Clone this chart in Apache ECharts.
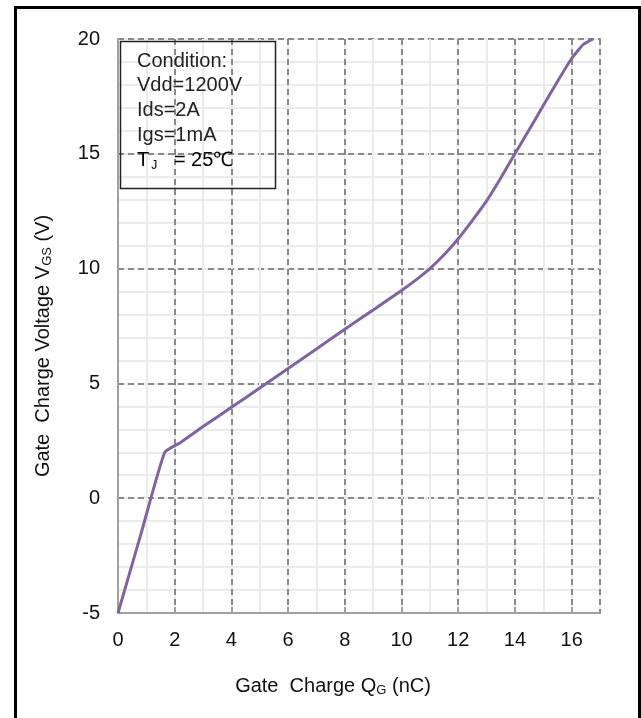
<!DOCTYPE html>
<html>
<head>
<meta charset="utf-8">
<script src="https://cdn.jsdelivr.net/npm/echarts@6/dist/echarts.min.js"></script>
<style>
html,body{margin:0;padding:0;background:#fff;}
#main{width:641px;height:718px;}
</style>
</head>
<body>
<div id="main"></div>
<script>
// Data
const gateCharge = [0, 0.8, 1.65, 2.2, 3, 4, 5, 6, 7, 8, 9, 10, 10.5, 11, 11.5, 12, 12.5, 13, 13.5, 14, 14.5, 15, 15.5, 16, 16.4, 16.75];
const gateVoltage = [-5, -1.6, 2.0, 2.42, 3.12, 3.96, 4.8, 5.65, 6.5, 7.36, 8.2, 9.05, 9.5, 10.0, 10.6, 11.3, 12.1, 12.95, 13.95, 15.0, 16.05, 17.1, 18.15, 19.15, 19.75, 20.0];
const xTicks = [0, 2, 4, 6, 8, 10, 12, 14, 16];
const yTicks = [-5, 0, 5, 10, 15, 20];
const conditionLines = ['Condition:', 'Vdd=1200V', 'Ids=2A', 'Igs=1mA'];

const FONT = '"Liberation Sans", Arial, sans-serif';
const chart = echarts.init(document.getElementById('main'));

const points = gateCharge.map((q, i) => [q, gateVoltage[i]]);

const textGraphics = conditionLines.map((t, i) => ({
  type: 'text',
  left: 137,
  top: 51 + i * 24.8,
  style: { text: t, font: '20px ' + FONT, fill: '#222' },
  z: 10
}));
textGraphics.push({
  type: 'text',
  left: 137,
  top: 150,
  style: {
    text: '{a|T}{s|J}{a|   = 25℃}',
    rich: {
      a: { fontSize: 20, fontFamily: FONT, color: '#222' },
      s: { fontSize: 12, fontFamily: FONT, color: '#222', padding: [12, 0, 0, 2] }
    }
  },
  z: 10
});

const nameRich = {
  a: { fontSize: 20, fontFamily: FONT, color: '#111' },
  s: { fontSize: 13, fontFamily: FONT, color: '#111', padding: [9, 0, 0, 0] }
};

chart.setOption({
  animation: false,
  backgroundColor: '#fff',
  grid: {
    left: 118, top: 39, right: 41, bottom: 105,
    show: true, borderColor: '#a0a0a0', borderWidth: 2, backgroundColor: 'transparent'
  },
  xAxis: [
    { // minor grid
      type: 'value', min: 0, max: 17, interval: 1, position: 'top',
      axisLine: { show: false }, axisTick: { show: false }, axisLabel: { show: false },
      splitLine: { show: true, lineStyle: { color: '#ebebeb', width: 2 } }
    },
    {
      type: 'value', min: 0, max: 17, interval: 2, position: 'bottom',
      axisLine: { show: true, onZero: false, lineStyle: { color: '#a0a0a0', width: 2 } },
      axisTick: { show: true, inside: true, length: 6, lineStyle: { color: '#a0a0a0', width: 2 } },
      axisLabel: {
        margin: 17, fontSize: 20, color: '#111', fontFamily: FONT,
        showMaxLabel: false,
        formatter: v => (xTicks.indexOf(v) >= 0 ? String(v) : '')
      },
      splitLine: { show: true, lineStyle: { color: '#8a8a8a', type: [6, 4], width: 2 } },
      name: '{a|Gate  Charge Q}{s|G}{a| (nC)}',
      nameLocation: 'middle',
      nameGap: 62,
      nameTextStyle: { rich: nameRich, padding: [0, 52, 0, 0] }
    }
  ],
  yAxis: [
    { // minor grid
      type: 'value', min: -5, max: 20, interval: 1, position: 'right',
      axisLine: { show: false }, axisTick: { show: false }, axisLabel: { show: false },
      splitLine: { show: true, lineStyle: { color: '#ebebeb', width: 2 } }
    },
    {
      type: 'value', min: -5, max: 20, interval: 5, position: 'left',
      axisLine: { show: true, onZero: false, lineStyle: { color: '#a0a0a0', width: 2 } },
      axisTick: { show: false },
      axisLabel: {
        margin: 18, fontSize: 20, color: '#111', fontFamily: FONT,
        formatter: v => (yTicks.indexOf(v) >= 0 ? String(v) : '')
      },
      splitLine: { show: true, lineStyle: { color: '#8a8a8a', type: [6, 4], width: 2 } },
      name: '{a|Gate  Charge Voltage V}{s|GS}{a| (V)}',
      nameLocation: 'middle',
      nameGap: 64,
      nameRotate: 90,
      nameTextStyle: { rich: nameRich, padding: [0, 40, 0, 0] }
    }
  ],
  graphic: [
    {
      type: 'rect', left: 13, top: 5, z: 100, silent: true,
      shape: { width: 624, height: 730 },
      style: { fill: 'none', stroke: '#000', lineWidth: 3 }
    },
    {
      type: 'rect', left: 118, top: 39, z: 9,
      shape: { width: 155, height: 147 },
      style: { fill: 'none', stroke: '#222', lineWidth: 1.5 }
    }
  ].concat(textGraphics),
  series: [{
    type: 'line',
    xAxisIndex: 1,
    yAxisIndex: 1,
    data: points,
    smooth: 0.15,
    showSymbol: false,
    lineStyle: { color: '#8064A2', width: 3 },
    clip: true
  }]
});
</script>
</body>
</html>
